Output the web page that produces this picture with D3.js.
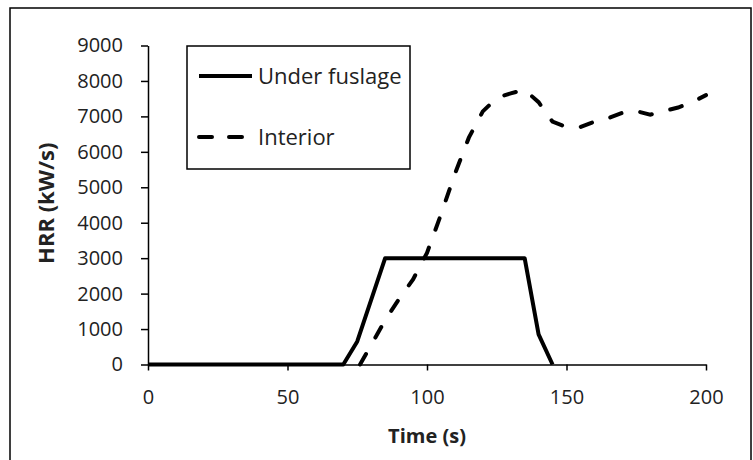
<!DOCTYPE html>
<html>
<head>
<meta charset="utf-8">
<script src="https://cdn.jsdelivr.net/npm/d3@7"></script>
<style>
  body { margin: 0; background: #fff; }
  svg { display: block; font-family: 'Open Sans', sans-serif; }
</style>
</head>
<body>
<svg id="chart" width="753" height="460"></svg>
<script>
// series: [time s, HRR]
const underFuselage = [[0, 0], [70, 0], [75, 650], [85, 3000], [135, 3000], [140, 850], [145, 0]]
const interior = [
  [76, 0], [80, 550], [85, 1250], [90, 1850], [95, 2400], [100, 3150], [105, 4230],
  [110, 5380], [115, 6400], [120, 7140], [125, 7520], [130, 7650], [135, 7750],
  [140, 7400], [145, 6850], [150, 6700], [155, 6700], [160, 6850], [165, 6950],
  [170, 7100], [175, 7150], [180, 7050], [185, 7150], [190, 7250], [195, 7400], [200, 7600]
]
const xTicks = [0, 50, 100, 150, 200]
const yTicks = [0, 1000, 2000, 3000, 4000, 5000, 6000, 7000, 8000, 9000]
const legendLabels = ['Under fuslage', 'Interior']

const svg = d3.select('#chart')
// outer frame
svg.append('rect').attr('x', 10).attr('y', 8).attr('width', 741).attr('height', 470)
  .attr('fill', 'none').attr('stroke', '#000').attr('stroke-width', 1.5)

const x = d3.scaleLinear().domain([0, 200]).range([148, 706])
const y = d3.scaleLinear().domain([0, 9000]).range([364.5, 45.5])

const line = d3.line().x(d => x(d[0])).y(d => y(d[1]))

// y axis
const yAxis = svg.append('g').attr('transform', `translate(${x(0)},0)`)
  .call(d3.axisLeft(y).tickValues(yTicks).tickFormat(d3.format('d'))
    .tickSize(6).tickSizeOuter(0).tickPadding(19))
// x axis
const xAxis = svg.append('g').attr('transform', `translate(0,${y(0)})`)
  .call(d3.axisBottom(x).tickValues(xTicks).tickFormat(d3.format('d'))
    .tickSize(6).tickSizeOuter(0).tickPadding(19))
for (const g of [xAxis, yAxis]) {
  g.select('.domain').attr('stroke', '#000').attr('stroke-width', 1.5)
  g.selectAll('.tick line').attr('stroke', '#000').attr('stroke-width', 1.5)
  g.selectAll('.tick text').attr('fill', '#222').attr('font-size', 20)
    .attr('font-family', "'Open Sans', sans-serif")
}
yAxis.selectAll('.tick line').attr('x2', -7)

// series
svg.append('path').datum(underFuselage).attr('d', line)
  .attr('fill', 'none').attr('stroke', '#000').attr('stroke-width', 4)
  .attr('stroke-linejoin', 'round')
svg.append('path').datum(interior).attr('d', line)
  .attr('fill', 'none').attr('stroke', '#000').attr('stroke-width', 4)
  .attr('stroke-dasharray', '12,19').attr('stroke-linecap', 'round')

// axis titles
svg.append('text').attr('x', x(100)).attr('y', 443).attr('text-anchor', 'middle')
  .attr('font-size', 20).attr('font-weight', 'bold').attr('fill', '#222').text('Time (s)')
svg.append('text').attr('transform', `translate(54,${y(4550)}) rotate(-90)`)
  .attr('text-anchor', 'middle').attr('font-size', 22).attr('font-weight', 'bold')
  .attr('fill', '#222').text('HRR (kW/s)')

// legend
const lg = svg.append('g')
lg.append('rect').attr('x', 187).attr('y', 46).attr('width', 223).attr('height', 123)
  .attr('fill', '#fff').attr('stroke', '#000').attr('stroke-width', 1.5)
legendLabels.forEach((lab, i) => {
  const ly = i === 0 ? 76 : 137
  lg.append('line').attr('x1', 199).attr('x2', 252).attr('y1', ly).attr('y2', ly)
    .attr('stroke', '#000').attr('stroke-width', 4)
    .attr('stroke-dasharray', i === 0 ? null : '13,17')
    .attr('stroke-linecap', i === 0 ? 'butt' : 'round')
  lg.append('text').attr('x', 258).attr('y', ly + 8).attr('font-size', 22)
    .attr('fill', '#222').text(lab)
})
</script>
</body>
</html>
